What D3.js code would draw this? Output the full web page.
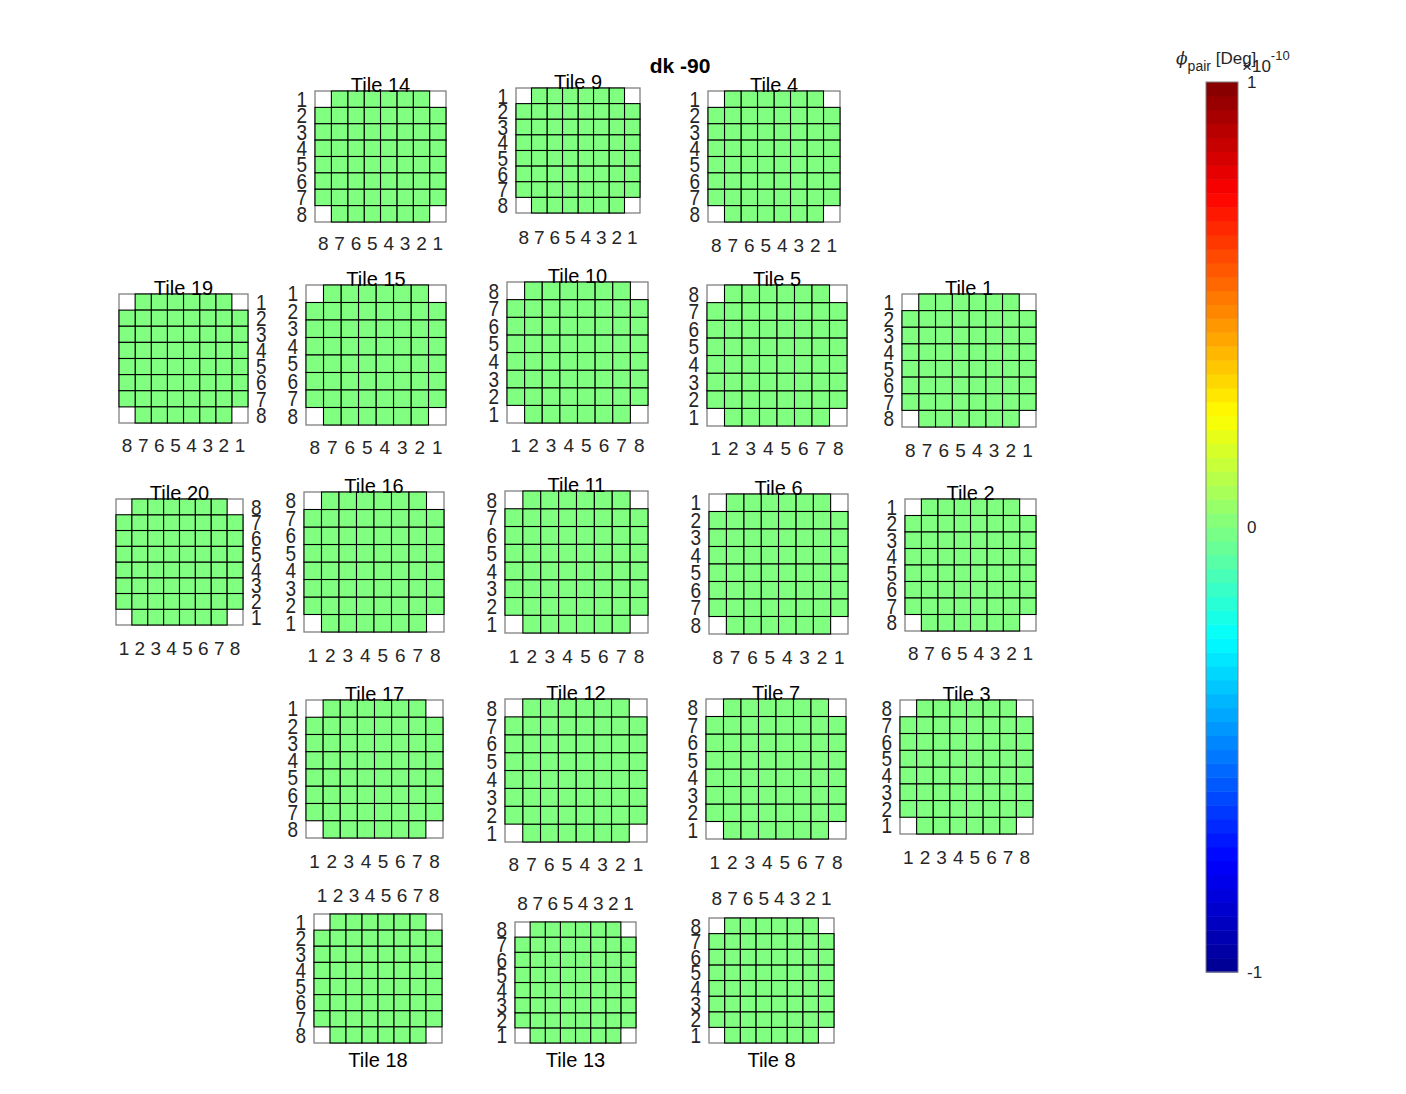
<!DOCTYPE html>
<html><head><meta charset="utf-8">
<script src="https://cdn.jsdelivr.net/npm/d3@7"></script>
<style>
body{margin:0;background:#fff}
text{font-family:"Liberation Sans",Arial,Helvetica,sans-serif}
</style>
</head><body>
<svg id="chart" width="1406" height="1094"></svg>
<script>
// ---------------- DATA ----------------
const figureTitle = "dk -90";
const tileIds = [14, 9, 4, 19, 15, 10, 5, 1, 20, 16, 11, 6, 2, 17, 12, 7, 3, 18, 13, 8];
// order of the row tick labels from top to bottom ("asc" = 1..8, "desc" = 8..1)
const tileRowOrder = ["asc","asc","asc","asc","asc","desc","desc","asc","desc","desc","desc","asc","asc","asc","desc","desc","desc","asc","desc","desc"];
// order of the column tick labels from left to right
const tileColOrder = ["desc","desc","desc","desc","desc","asc","asc","desc","asc","asc","asc","desc","desc","asc","desc","asc","asc","asc","desc","desc"];
const tickLabels = [1, 2, 3, 4, 5, 6, 7, 8];
// phi_pair [Deg] per detector pixel (row, column); corners have no detector
const phiPair = [
  [null, 0, 0, 0, 0, 0, 0, null],
  [0, 0, 0, 0, 0, 0, 0, 0],
  [0, 0, 0, 0, 0, 0, 0, 0],
  [0, 0, 0, 0, 0, 0, 0, 0],
  [0, 0, 0, 0, 0, 0, 0, 0],
  [0, 0, 0, 0, 0, 0, 0, 0],
  [0, 0, 0, 0, 0, 0, 0, 0],
  [null, 0, 0, 0, 0, 0, 0, null]
];
const colorbarTicks = [-1, 0, 1];
const colorbarExponent = -10;
const colorLimits = [-1e-10, 1e-10];

// ---------------- LAYOUT (positions only) ----------------
// [x0, x1, y0, y1, rowSide, colSide, colLabelOffset, titleSide]
const tileLayout = [
  [315, 446,  91, 222, "left",  "bottom", 21, "top"],
  [516, 640,  88, 213, "left",  "bottom", 24, "top"],
  [708, 840,  91, 222, "left",  "bottom", 23, "top"],
  [119, 248, 294, 423, "right", "bottom", 22, "top"],
  [306, 446, 285, 425, "left",  "bottom", 22, "top"],
  [507, 648, 282, 423, "left",  "bottom", 22, "top"],
  [707, 847, 285, 426, "left",  "bottom", 22, "top"],
  [902, 1036, 294, 427, "left", "bottom", 23, "top"],
  [116, 243, 499, 625, "right", "bottom", 23, "top"],
  [304, 444, 492, 632, "left",  "bottom", 23, "top"],
  [505, 648, 491, 633, "left",  "bottom", 23, "top"],
  [709, 848, 494, 634, "left",  "bottom", 23, "top"],
  [905, 1036, 499, 631, "left", "bottom", 22, "top"],
  [306, 443, 700, 838, "left",  "bottom", 23, "top"],
  [505, 647, 699, 842, "left",  "bottom", 22, "top"],
  [706, 846, 699, 839, "left",  "bottom", 23, "top"],
  [900, 1033, 700, 834, "left", "bottom", 23, "top"],
  [314, 442, 914, 1043, "left", "top", 19, "bottom"],
  [515, 636, 922, 1043, "left", "top", 19, "bottom"],
  [709, 834, 918, 1043, "left", "top", 20, "bottom"]
];
const cbar = {x0: 1206, x1: 1238, y0: 82, y1: 972};

// ---------------- DRAW ----------------
const svg = d3.select("#chart");
svg.append("rect").attr("width", 1406).attr("height", 1094).attr("fill", "#fff");

// jet colormap
const jet = d3.scaleLinear()
  .domain([-1, -0.75, -0.25, 0.25, 0.75, 1].map(v => v * colorLimits[1]))
  .range(["#00008f", "#0000ff", "#00ffff", "#ffff00", "#ff0000", "#800000"])
  .interpolate(d3.interpolateRgb)
  .clamp(true);

const tickColor = "#262626";
const tickFont = "19px";
const fam = '"Liberation Sans",Arial,sans-serif';

tileIds.forEach((id, i) => {
  const [x0, x1, y0, y1, rowSide, colSide, colOff, titleSide] = tileLayout[i];
  const rowDomain = tileRowOrder[i] === "asc" ? tickLabels.slice() : tickLabels.slice().reverse();
  const colDomain = tileColOrder[i] === "asc" ? tickLabels.slice() : tickLabels.slice().reverse();
  const y = d3.scaleBand().domain(rowDomain).range([y0, y1]);
  const x = d3.scaleBand().domain(colDomain).range([x0, x1]);
  const g = svg.append("g").attr("class", "tile");

  g.append("rect").attr("x", x0).attr("y", y0).attr("width", x1 - x0).attr("height", y1 - y0)
    .attr("fill", "#fff").attr("stroke", "#808080").attr("stroke-width", 1.3);

  const cells = [];
  phiPair.forEach((row, r) => row.forEach((v, c) => {
    if (v !== null) cells.push({row: r + 1, col: c + 1, v});
  }));
  g.selectAll("rect.cell").data(cells).join("rect").attr("class", "cell")
    .attr("x", d => x(d.col)).attr("y", d => y(d.row))
    .attr("width", x.bandwidth()).attr("height", y.bandwidth())
    .attr("fill", d => jet(d.v)).attr("stroke", "#000").attr("stroke-width", 1.1);

  // row axis
  const rowAxis = (rowSide === "left" ? d3.axisLeft(y) : d3.axisRight(y)).tickSize(0).tickPadding(8);
  const ra = g.append("g").attr("transform", `translate(${rowSide === "left" ? x0 : x1},0)`).call(rowAxis);
  ra.select(".domain").remove();
  ra.selectAll("text").attr("font-size", tickFont).attr("fill", tickColor).attr("font-family", fam)
    .attr("dy", "0.36em").attr("transform", "scale(1,1.13)");

  // column axis
  const colAxis = (colSide === "bottom" ? d3.axisBottom(x) : d3.axisTop(x)).tickSize(0).tickPadding(0);
  const cy = colSide === "bottom" ? y1 + colOff : y0 - colOff;
  const ca = g.append("g").attr("transform", `translate(0,${cy})`).call(colAxis);
  ca.select(".domain").remove();
  ca.selectAll("text").attr("y", 0).attr("dy", "0.36em").attr("font-size", tickFont).attr("fill", tickColor)
    .attr("font-family", fam);

  // title
  g.append("text").attr("x", (x0 + x1) / 2)
    .attr("y", titleSide === "top" ? y0 + 0.5 : y1 + 24)
    .attr("text-anchor", "middle").attr("font-size", "20px").attr("fill", "#000")
    .text("Tile " + id);
});

// figure title
svg.append("text").attr("x", 680).attr("y", 73).attr("text-anchor", "middle")
  .attr("font-size", "21px").attr("font-weight", "bold").attr("fill", "#000").text(figureTitle);

// colorbar
const cyS = d3.scaleLinear().domain([colorbarTicks[0], colorbarTicks[2]]).range([cbar.y1, cbar.y0]);
const nSteps = 64;
const steps = d3.range(nSteps);
svg.append("g").selectAll("rect").data(steps).join("rect")
  .attr("x", cbar.x0).attr("width", cbar.x1 - cbar.x0)
  .attr("y", d => cyS(-1 + (d + 1) * 2 / nSteps))
  .attr("height", d => cyS(-1 + d * 2 / nSteps) - cyS(-1 + (d + 1) * 2 / nSteps) + 0.5)
  .attr("fill", d => jet((-1 + (d + 0.5) * 2 / nSteps) * colorLimits[1]));
svg.append("rect").attr("x", cbar.x0).attr("y", cbar.y0).attr("width", cbar.x1 - cbar.x0)
  .attr("height", cbar.y1 - cbar.y0).attr("fill", "none").attr("stroke", "#808080").attr("stroke-width", 1);
const cAxis = d3.axisRight(cyS).tickValues(colorbarTicks).tickSize(0).tickPadding(9).tickFormat(d => String(d));
const cag = svg.append("g").attr("transform", `translate(${cbar.x1},0)`).call(cAxis);
cag.select(".domain").remove();
cag.selectAll("text").attr("font-size", "17px").attr("fill", tickColor).attr("font-family", fam);

// colorbar label
const lab = svg.append("text").attr("x", 1176).attr("y", 64).attr("font-size", "17px").attr("fill", tickColor);
lab.append("tspan").attr("font-style", "italic").attr("font-family", '"DejaVu Serif",serif').text("ϕ");
lab.append("tspan").attr("font-size", "14px").attr("dy", 7).text("pair");
lab.append("tspan").attr("dy", -7).text(" [Deg]");
const ex = svg.append("text").attr("x", 1242).attr("y", 72).attr("font-size", "17px").attr("fill", tickColor);
ex.append("tspan").text("×10");
ex.append("tspan").attr("font-size", "13px").attr("dy", -12).text(String(colorbarExponent));
</script>
</body></html>
